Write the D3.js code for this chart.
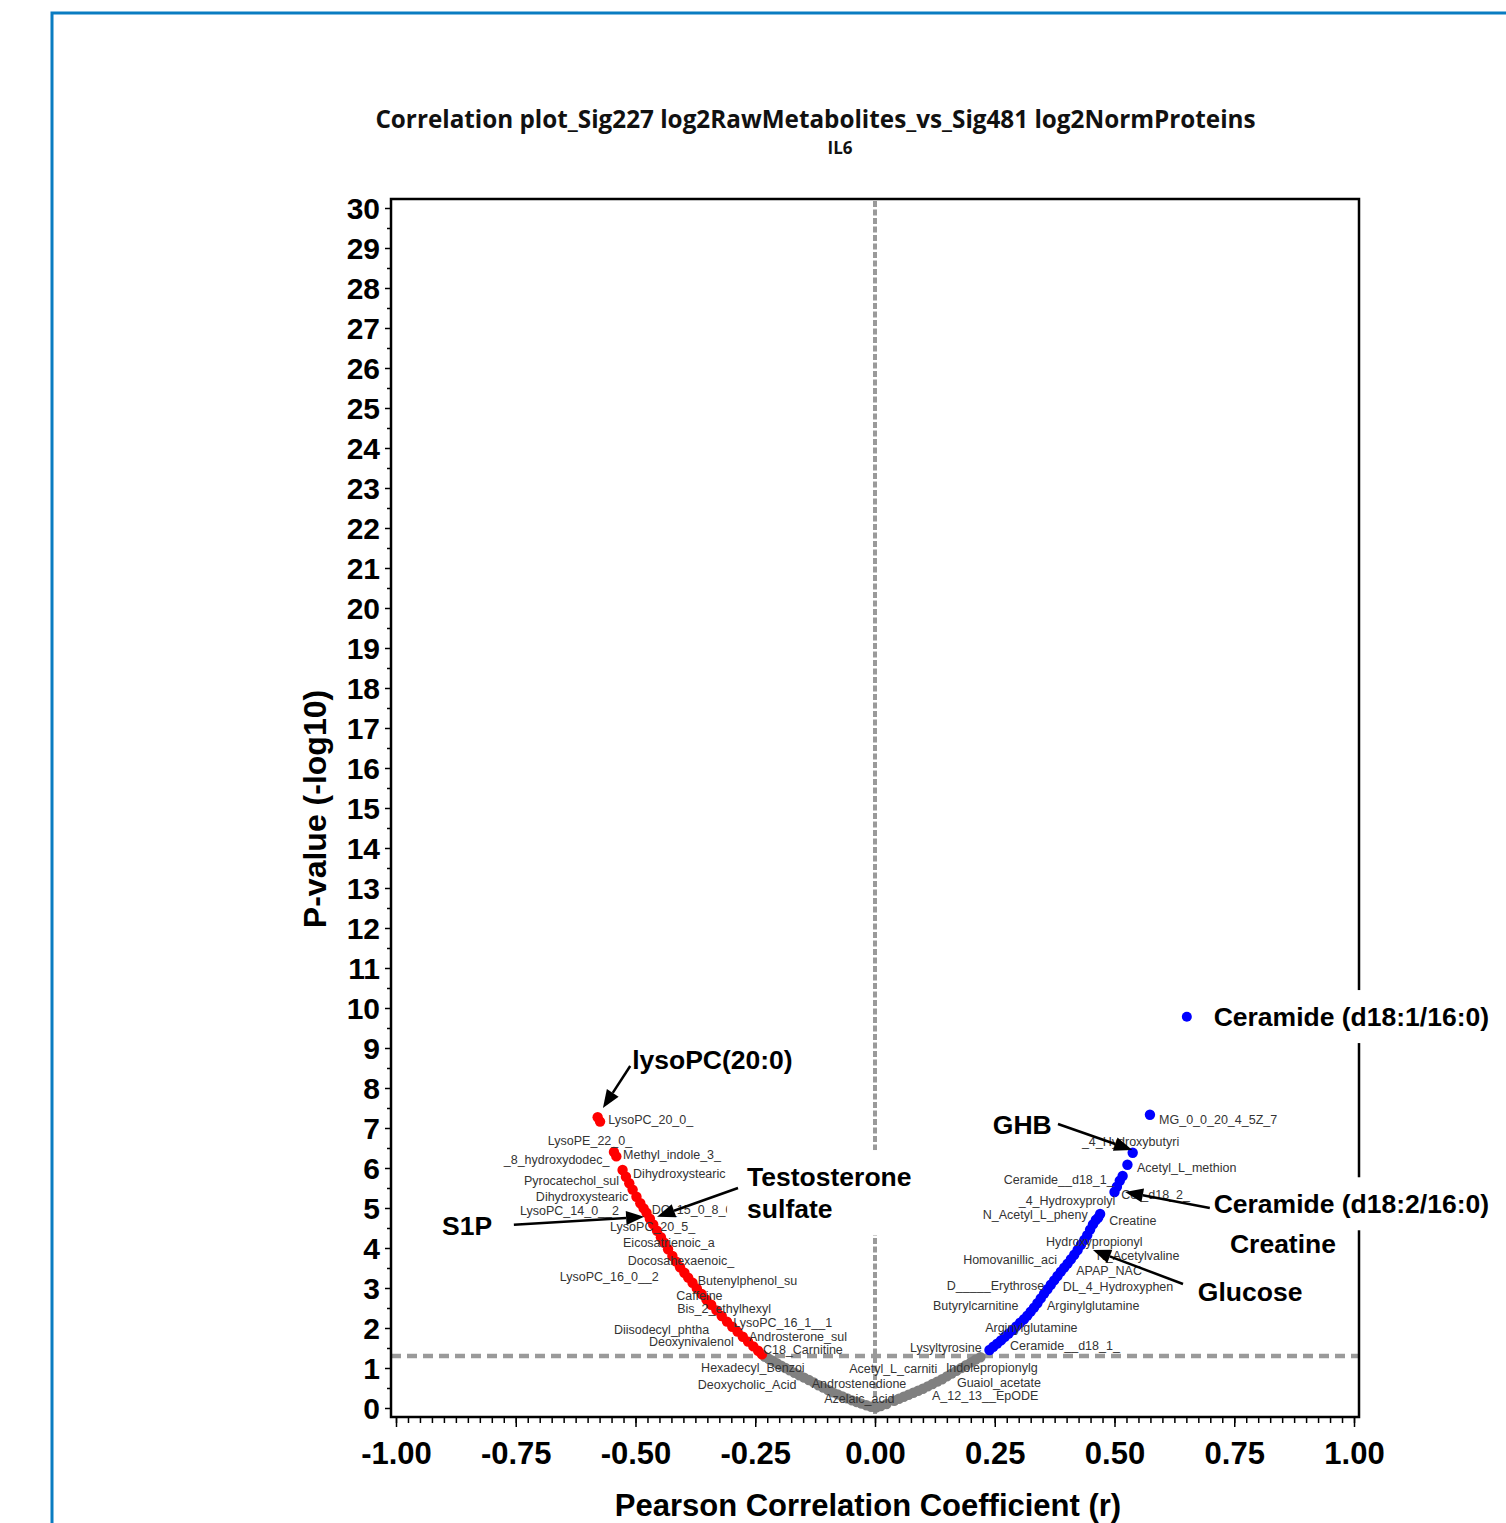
<!DOCTYPE html>
<html><head><meta charset="utf-8">
<script src="https://cdn.jsdelivr.net/npm/d3@7"></script>
<style>body{margin:0;background:#fff;} svg{display:block;}</style>
</head><body><svg id="chart" width="1506" height="1523"></svg>
<script>
// ---- data: [Pearson r, -log10(p)] ----
const redPoints = [[-0.579,7.27],[-0.574,7.16],[-0.545,6.40],[-0.540,6.29],
 [-0.527,5.95],[-0.520,5.78],[-0.513,5.62],[-0.506,5.46],[-0.498,5.28],[-0.490,5.12],[-0.483,4.99],[-0.477,4.88],
 [-0.470,4.73],[-0.463,4.59],[-0.455,4.43],[-0.447,4.27],[-0.440,4.13],[-0.432,3.97],[-0.423,3.80],[-0.415,3.66],
 [-0.407,3.52],[-0.398,3.38],[-0.390,3.26],[-0.381,3.13],[-0.372,2.99],[-0.362,2.85],[-0.352,2.71],[-0.342,2.58],
 [-0.331,2.44],[-0.320,2.30],[-0.309,2.16],[-0.298,2.03],[-0.287,1.91],[-0.276,1.78],[-0.265,1.66],[-0.254,1.54],
 [-0.244,1.43],[-0.236,1.34]];
const grayPoints = [[-0.230,1.28],[-0.222,1.23],[-0.214,1.18],[-0.205,1.12],[-0.196,1.06],[-0.187,1.00],[-0.178,0.94],
 [-0.168,0.88],[-0.158,0.82],[-0.148,0.76],[-0.138,0.70],[-0.128,0.64],[-0.118,0.57],[-0.108,0.51],[-0.098,0.45],
 [-0.088,0.39],[-0.078,0.34],[-0.068,0.29],[-0.058,0.24],[-0.048,0.19],[-0.038,0.15],[-0.028,0.11],[-0.018,0.07],
 [-0.008,0.03],[0.002,0.01],[0.012,0.05],[0.024,0.10],[0.040,0.18],[0.050,0.23],[0.060,0.28],[0.070,0.33],[0.080,0.38],
 [0.090,0.43],[0.100,0.48],[0.110,0.54],[0.120,0.60],[0.130,0.66],[0.140,0.72],[0.150,0.79],[0.160,0.86],[0.170,0.93],
 [0.180,1.00],[0.190,1.07],[0.200,1.14],[0.210,1.21],[0.220,1.27]];
const bluePoints = [[0.239,1.45],[0.247,1.53],[0.255,1.61],[0.263,1.69],[0.271,1.78],[0.279,1.86],[0.287,1.95],
 [0.295,2.04],[0.303,2.13],[0.311,2.22],[0.318,2.31],[0.325,2.41],[0.332,2.51],[0.339,2.62],[0.346,2.74],[0.353,2.86],
 [0.360,2.97],[0.367,3.08],[0.374,3.19],[0.381,3.30],[0.388,3.41],[0.395,3.51],[0.402,3.61],[0.409,3.72],[0.416,3.83],
 [0.423,3.95],[0.430,4.08],[0.437,4.20],[0.443,4.32],[0.449,4.46],[0.455,4.59],[0.461,4.70],[0.466,4.76],[0.470,4.85],
 [0.500,5.40],[0.505,5.53],[0.511,5.68],[0.517,5.80],[0.527,6.08],[0.538,6.38],[0.574,7.33]];
// point labels: [text, r, -log10(p)] (left edge / vertical middle of the label)
const pointLabels = [
 ["LysoPC_20_0_",-0.557,7.2],["LysoPE_22_0_",-0.683,6.675],["_8_hydroxydodec_",-0.775,6.2],["Methyl_indole_3_",-0.526,6.325],
 ["Dihydroxystearic",-0.505,5.85],["Pyrocatechol_sul",-0.733,5.675],["Dihydroxystearic",-0.708,5.275],["LysoPC_14_0__2",-0.741,4.925],
 ["DC_15_0_8_0",-0.466,4.95],["LysoPC_20_5_",-0.553,4.525],["Eicosatrienoic_a",-0.526,4.125],["Docosahexaenoic_",-0.516,3.675],
 ["LysoPC_16_0__2",-0.658,3.275],["Butenylphenol_su",-0.370,3.175],["Caffeine",-0.415,2.8],["Bis_2_ethylhexyl",-0.413,2.475],
 ["LysoPC_16_1__1",-0.296,2.125],["Diisodecyl_phtha",-0.545,1.95],["Androsterone_sul",-0.263,1.775],["Deoxynivalenol",-0.472,1.65],
 ["C18_Carnitine",-0.234,1.45],["Hexadecyl_Benzoi",-0.363,1.0],["Deoxycholic_Acid",-0.370,0.575],["Acetyl_L_carniti",-0.054,0.975],
 ["Androstenedione",-0.132,0.6],["Azelaic_acid",-0.106,0.225],
 ["MG_0_0_20_4_5Z_7",0.593,7.2],["_4_Hydroxybutyri",0.432,6.65],["Acetyl_L_methion",0.547,6.0],["Ceramide__d18_1_",0.269,5.7],
 ["Cer_d18_2_",0.514,5.325],["_4_Hydroxyprolyl",0.300,5.175],["N_Acetyl_L_pheny",0.225,4.825],["Creatine",0.489,4.675],
 ["Hydroxypropionyl",0.357,4.15],["Homovanillic_aci",0.184,3.7],["N_Acetylvaline",0.463,3.8],["APAP_NAC",0.420,3.425],
 ["D_____Erythrose",0.150,3.05],["DL_4_Hydroxyphen",0.392,3.025],["Butyrylcarnitine",0.121,2.55],["Arginylglutamine",0.359,2.55],
 ["Arginylglutamine",0.230,2.0],["Lysyltyrosine",0.073,1.5],["Ceramide__d18_1_",0.282,1.55],["Indolepropionylg",0.148,1.0],
 ["Guaiol_acetate",0.171,0.625],["A_12_13__EpODE",0.119,0.3]];
// highlighted annotations: lines, text anchor [r, v], arrow [from, to] in data units
const annotations = [
 {lines:["lysoPC(20:0)"], at:[-0.507,8.7], arrow:[[-0.511,8.55],[-0.568,7.5]]},
 {lines:["Testosterone","sulfate"], at:[-0.267,5.78], arrow:[[-0.286,5.5],[-0.455,4.78]]},
 {lines:["S1P"], at:[-0.904,4.55], arrow:[[-0.754,4.58],[-0.482,4.78]]},
 {lines:["GHB"], at:[0.246,7.08], arrow:[[0.382,7.1],[0.537,6.45]]},
 {lines:["Ceramide (d18:1/16:0)"], at:[0.707,9.78], dot:[0.651,9.78]},
 {lines:["Ceramide (d18:2/16:0)"], at:[0.707,5.1], arrow:[[0.699,5.0],[0.522,5.4]]},
 {lines:["Creatine"], at:[0.741,4.1]},
 {lines:["Glucose"], at:[0.674,2.9], arrow:[[0.643,3.1],[0.455,3.95]]}];
const xTicks = [-1,-0.75,-0.5,-0.25,0,0.25,0.5,0.75,1];
const yTicks = d3.range(0,31);
const pThreshold = 0.05;
const titleText = "Correlation plot_Sig227 log2RawMetabolites_vs_Sig481 log2NormProteins";
const subtitleText = "IL6";
const xTitle = "Pearson Correlation Coefficient (r)";
const yTitle = "P-value (-log10)";

// ---- drawing ----
const svg = d3.select("#chart");
const F = "'Liberation Sans', Arial, sans-serif";
const x = d3.scaleLinear().domain([-1,1]).range([396,1354]);
const y = d3.scaleLinear().domain([0,30]).range([1408,208]);
const frame = {x0:391, x1:1359, y0:199, y1:1417};

// outer blue panel border
svg.append("path").attr("d","M52,1523 L52,13 L1506,13").attr("fill","none")
  .attr("stroke","#0a7cc1").attr("stroke-width",3);

// title
const t = svg.append("text").attr("x",815.5).attr("y",128).attr("text-anchor","middle")
  .attr("font-family","'Open Sans', sans-serif").attr("font-weight",700).attr("font-size",22)
  .attr("fill","#111").text(titleText);
const tl = t.node().getComputedTextLength();
t.attr("font-size", 22*881/tl);
svg.append("text").attr("x",840).attr("y",154).attr("text-anchor","middle")
  .attr("font-family","'Open Sans', sans-serif").attr("font-weight",700).attr("font-size",17)
  .attr("fill","#111").text(subtitleText);

// reference lines
svg.append("line").attr("x1",frame.x0).attr("x2",frame.x1)
  .attr("y1",y(-Math.log10(pThreshold))).attr("y2",y(-Math.log10(pThreshold)))
  .attr("stroke","#9a9a9a").attr("stroke-width",4.5).attr("stroke-dasharray","10,6");
svg.append("line").attr("x1",x(0)).attr("x2",x(0)).attr("y1",frame.y0+2).attr("y2",frame.y1)
  .attr("stroke","#9a9a9a").attr("stroke-width",4).attr("stroke-dasharray","6,2.5");

// frame
svg.append("rect").attr("x",frame.x0).attr("y",frame.y0).attr("width",frame.x1-frame.x0)
  .attr("height",frame.y1-frame.y0).attr("fill","none").attr("stroke","#000").attr("stroke-width",2.5);

// x axis
const xMinor = d3.range(-1,1.0001,0.025);
const gxm = svg.append("g").attr("transform",`translate(0,${frame.y1+1})`)
  .call(d3.axisBottom(x).tickValues(xMinor).tickSize(5).tickFormat(""));
const gx = svg.append("g").attr("transform",`translate(0,${frame.y1+1})`)
  .call(d3.axisBottom(x).tickValues(xTicks).tickSize(9).tickPadding(15).tickFormat(d=>d.toFixed(2)));
[gxm,gx].forEach(g=>{g.select(".domain").remove(); g.selectAll("line").attr("stroke","#000").attr("stroke-width",1.5);});
gx.selectAll("text").attr("font-family",F).attr("font-weight",700).attr("font-size",31).attr("fill","#000");

// y axis
const gym = svg.append("g").attr("transform",`translate(${frame.x0-1},0)`)
  .call(d3.axisLeft(y).tickValues(d3.range(0.5,30,1)).tickSize(3).tickFormat(""));
const gy = svg.append("g").attr("transform",`translate(${frame.x0-1},0)`)
  .call(d3.axisLeft(y).tickValues(yTicks).tickSize(5).tickPadding(5).tickFormat(d=>d));
[gym,gy].forEach(g=>{g.select(".domain").remove(); g.selectAll("line").attr("stroke","#000").attr("stroke-width",1.5);});
gy.selectAll("text").attr("font-family",F).attr("font-weight",700).attr("font-size",30).attr("fill","#000").attr("dy","0.35em");

// axis titles
svg.append("text").attr("x",868).attr("y",1516).attr("text-anchor","middle")
  .attr("font-family",F).attr("font-weight",700).attr("font-size",31).text(xTitle);
svg.append("text").attr("transform","translate(326,809) rotate(-90)").attr("text-anchor","middle")
  .attr("font-family",F).attr("font-weight",700).attr("font-size",32).text(yTitle);

// points
const series = [[grayPoints,"#808080"],[redPoints,"#ff0000"],[bluePoints,"#0000ff"]];
series.forEach(([pts,col])=>{
  svg.append("g").selectAll("circle").data(pts).join("circle")
    .attr("cx",d=>x(d[0])).attr("cy",d=>y(d[1])).attr("r",5.2).attr("fill",col);
});

// point labels
svg.append("g").selectAll("text").data(pointLabels).join("text")
  .attr("x",d=>x(d[1])).attr("y",d=>y(d[2])).attr("dy","0.35em")
  .attr("font-family",F).attr("font-size",12.5).attr("fill","#333").text(d=>d[0]);

// annotations: white boxes, text, arrows
const ag = svg.append("g");
annotations.forEach(a=>{
  const g = ag.append("g");
  const box = g.append("rect").attr("fill","#fff");
  const txt = g.append("text").attr("font-family",F).attr("font-weight",700).attr("font-size",26.5).attr("fill","#000");
  a.lines.forEach((l,i)=>{
    txt.append("tspan").attr("x",x(a.at[0])).attr("y",y(a.at[1])+i*32).attr("dy","0.35em").text(l);
  });
  const bb = txt.node().getBBox();
  box.attr("x",bb.x-20).attr("y",bb.y-12).attr("width",bb.width+30).attr("height",bb.height+23);
  if(a.dot){
    g.append("circle").attr("cx",x(a.dot[0])).attr("cy",y(a.dot[1])).attr("r",5).attr("fill","#0000ff");
  }
});
annotations.filter(a=>a.arrow).forEach(a=>{
  const [x1,y1] = [x(a.arrow[0][0]), y(a.arrow[0][1])];
  const [x2,y2] = [x(a.arrow[1][0]), y(a.arrow[1][1])];
  const ang = Math.atan2(y2-y1,x2-x1), L=18, W=7;
  const bx = x2-L*Math.cos(ang), by = y2-L*Math.sin(ang);
  ag.append("line").attr("x1",x1).attr("y1",y1).attr("x2",bx).attr("y2",by)
    .attr("stroke","#000").attr("stroke-width",2.5);
  const px = -Math.sin(ang)*W, py = Math.cos(ang)*W;
  ag.append("path").attr("d",`M${x2},${y2}L${bx+px},${by+py}L${bx-px},${by-py}Z`).attr("fill","#000");
});
</script></body></html>
